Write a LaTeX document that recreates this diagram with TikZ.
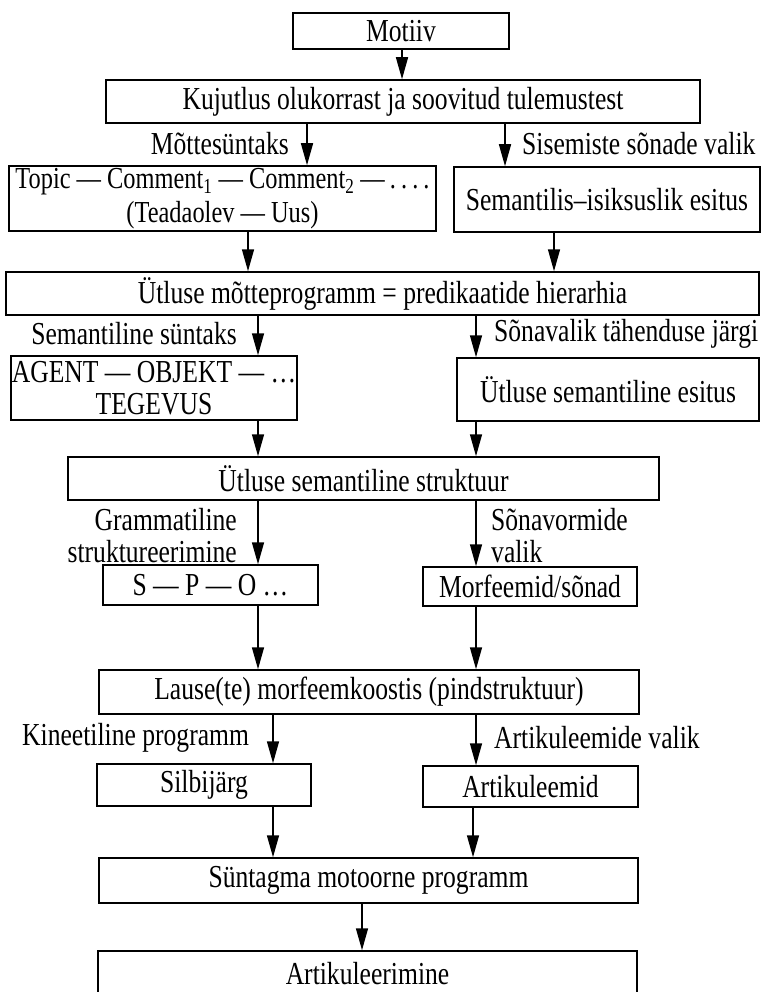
\documentclass[tikz,border=0pt]{standalone}
\usepackage{fontspec}
\setmainfont{Liberation Serif}[FakeStretch=0.8]
\usetikzlibrary{arrows.meta}

\begin{document}
\begin{tikzpicture}[x=1pt, y=-1pt,
  every node/.style={font=\fontsize{32}{32}\selectfont, text=black},
  box/.style={draw, line width=1.5pt, inner sep=0pt, align=center},
  lbl/.style={inner sep=0pt},
  arr/.style={line width=1.5pt, -{Triangle[length=22pt, width=12pt]}},
]
\useasboundingbox (0,0) rectangle (762,992);

% boxes (centre, width, height)
\node[box, minimum width=216, minimum height=36] (motiv) at (401,31) {Motiiv};
\node[box, minimum width=594, minimum height=43] (kuj) at (403,101.5)
  {Kujutlus olukorrast ja soovitud tulemustest};
\node[box, minimum width=427, minimum height=65, font=\fontsize{30.5}{34}\selectfont] (topic) at (222.5,198.5)
  {Topic — Comment\textsubscript{1} — Comment\textsubscript{2} —\,.\,.\,.\,.\\(Teadaolev — Uus)};
\node[box, minimum width=306, minimum height=65] (semis) at (607,199.5)
  {Semantilis–isiksuslik esitus};
\node[box, minimum width=753, minimum height=43] (prog) at (382.5,293.5)
  {Ütluse mõtteprogramm = predikaatide hierarhia};
\node[box, minimum width=286, minimum height=64] (agent) at (154,388)
  {AGENT — OBJEKT — …\\TEGEVUS};
\node[box, minimum width=302, minimum height=63] (semes) at (608,389.5)
  {Ütluse semantiline esitus};
\node[box, minimum width=591, minimum height=43] (struct) at (363.5,478.5)
  {Ütluse semantiline struktuur};
\node[box, minimum width=215, minimum height=40] (spo) at (210.5,585)
  {S — P — O …};
\node[box, minimum width=214, minimum height=39] (morf) at (530,586.5)
  {Morfeemid/sõnad};
\node[box, minimum width=540, minimum height=44] (lause) at (369,692)
  {Lause(te) morfeemkoostis (pindstruktuur)};
\node[box, minimum width=214, minimum height=42] (silb) at (204,785)
  {Silbijärg};
\node[box, minimum width=215, minimum height=41] (artm) at (530.5,786.5)
  {Artikuleemid};
\node[box, minimum width=539, minimum height=45] (synt) at (368.5,880.5)
  {Süntagma motoorne programm};
\node[box, minimum width=539, minimum height=46] (artik) at (367.5,974)
  {Artikuleerimine};

% labels beside the arrows
\node[lbl, anchor=east] (lmotte) at (289,144) {Mõttesüntaks};
\node[lbl, anchor=west] (lsis) at (522,144) {Sisemiste sõnade valik};
\node[lbl, anchor=east] (lsem) at (237,334) {Semantiline süntaks};
\node[lbl, anchor=west] (lsona) at (494,334) {Sõnavalik tähenduse järgi};
\node[lbl, anchor=east, align=right] (lgram) at (237,536)
  {Grammatiline\\struktureerimine};
\node[lbl, anchor=west, align=left] (lvorm) at (491,536)
  {Sõnavormide\\valik};
\node[lbl, anchor=west] (lkin) at (22,738) {Kineetiline programm};
\node[lbl, anchor=west] (lart) at (494,738) {Artikuleemide valik};

% arrow columns
\coordinate (c1) at (402,0);
\coordinate (c2) at (307,0);
\coordinate (c3) at (505,0);
\coordinate (c4) at (248,0);
\coordinate (c5) at (554,0);
\coordinate (c6) at (258,0);
\coordinate (c7) at (476,0);
\coordinate (c8) at (273,0);
\coordinate (c9) at (473,0);
\coordinate (c10) at (362,0);

% connectors
\draw[arr] (motiv.south -| c1) -- (kuj.north -| c1);
\draw[arr] (kuj.south -| c2) -- (topic.north -| c2);
\draw[arr] (kuj.south -| c3) -- (semis.north -| c3);
\draw[arr] (topic.south -| c4) -- (prog.north -| c4);
\draw[arr] (semis.south -| c5) -- (prog.north -| c5);
\draw[arr] (prog.south -| c6) -- (agent.north -| c6);
\draw[arr] (prog.south -| c7) -- (semes.north -| c7);
\draw[arr] (agent.south -| c6) -- (struct.north -| c6);
\draw[arr] (semes.south -| c7) -- (struct.north -| c7);
\draw[arr] (struct.south -| c6) -- (spo.north -| c6);
\draw[arr] (struct.south -| c7) -- (morf.north -| c7);
\draw[arr] (spo.south -| c6) -- (lause.north -| c6);
\draw[arr] (morf.south -| c7) -- (lause.north -| c7);
\draw[arr] (lause.south -| c8) -- (silb.north -| c8);
\draw[arr] (lause.south -| c7) -- (artm.north -| c7);
\draw[arr] (silb.south -| c8) -- (synt.north -| c8);
\draw[arr] (artm.south -| c9) -- (synt.north -| c9);
\draw[arr] (synt.south -| c10) -- (artik.north -| c10);
\end{tikzpicture}
\end{document}
